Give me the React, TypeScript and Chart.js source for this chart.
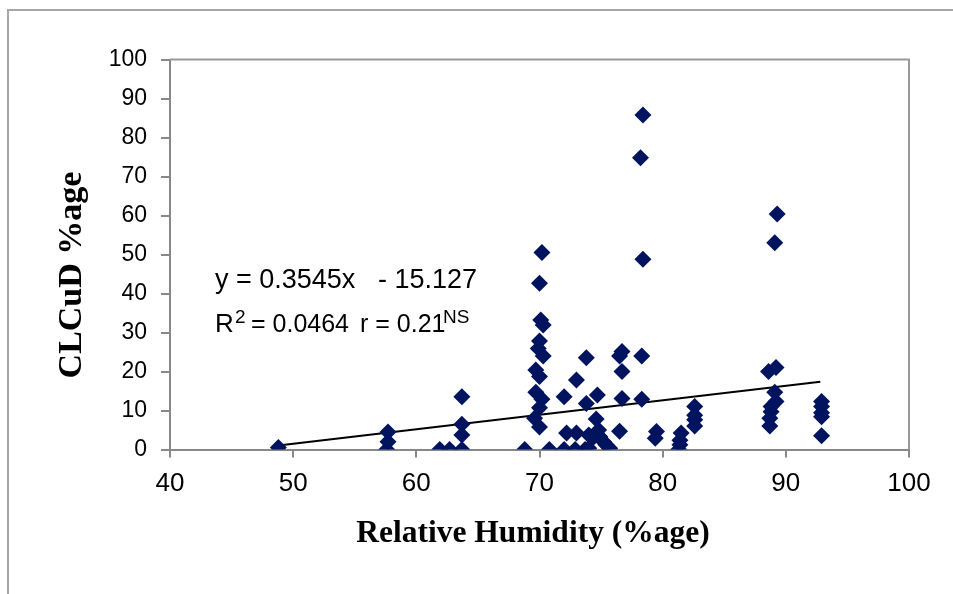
import React, { useEffect, useRef } from 'react';
import { Chart, registerables } from 'chart.js';

Chart.register(...registerables);

// Relative humidity (%) of each observation
const rhValues = [
  48.8, 57.7, 57.7, 57.6, 61.9, 62.7, 63.7, 63.7, 63.7, 63.7,
  68.8, 70.2, 70.0, 70.1, 70.3, 70.0, 69.9, 70.3, 69.7, 70.0,
  69.7, 70.2, 70.0, 69.6, 70.0, 70.8, 72.0, 73.0, 73.8, 73.8,
  74.7, 74.6, 72.2, 73.0, 74.0, 74.8, 74.9, 75.2, 75.7, 72.0,
  72.9, 73.7, 74.0, 75.4, 74.3, 76.5, 76.7, 76.7, 76.5, 76.7,
  78.4, 78.2, 78.4, 78.3, 78.3, 79.5, 79.4, 82.6, 82.6, 82.6,
  82.6, 81.5, 81.4, 81.4, 81.3, 89.3, 89.1, 88.6, 89.2, 89.1,
  89.2, 88.8, 88.7, 88.7, 92.9, 92.9, 92.9, 92.9, 92.9, 88.8,
];
// CLCuD incidence (%) of each observation
const clcudValues = [
  0.5, 4.5, 2.0, 0.0, 0.0, 0.0, 13.5, 6.5, 3.7, 0.0,
  0.0, 50.5, 42.6, 33.2, 31.9, 27.8, 25.9, 24.0, 20.4, 18.7,
  14.7, 12.9, 10.7, 8.0, 5.8, 0.0, 13.5, 17.8, 23.5, 11.8,
  14.0, 7.8, 4.2, 4.2, 3.7, 5.0, 3.3, 2.0, 0.3, 0.0,
  0.0, 0.0, 0.3, 1.2, 2.9, 4.7, 13.1, 20.0, 24.0, 25.1,
  85.8, 74.8, 48.8, 24.0, 12.9, 4.6, 2.9, 11.0, 8.8, 7.6,
  6.0, 4.2, 2.4, 1.2, 0.0, 60.4, 53.0, 20.0, 21.0, 14.7,
  12.3, 9.7, 8.0, 6.0, 12.3, 11.0, 9.4, 8.4, 3.5, 11.0,
];
// Linear trend line end points (as drawn)
const trendX = [48.8, 92.8];
const trendY = [1.0, 17.4];

const xMin = 40;
const xMax = 100;
const yMin = 0;
const yMax = 100;
const tickStep = 10;

const xTitle = 'Relative Humidity (%age)';
const yTitle = 'CLCuD %age';
const eqLine1a = 'y = 0.3545x';
const eqLine1b = '- 15.127';
const eqLine2a = 'R';
const eqLine2sup = '2';
const eqLine2b = '= 0.0464';
const eqLine2c = 'r = 0.21';
const eqLine2sup2 = 'NS';

const SANS = '"Liberation Sans", Arial, sans-serif';
const SERIF = '"Liberation Serif", "Times New Roman", serif';

const overlay = {
  id: 'overlay',
  beforeDraw(chart: any) {
    const ctx = chart.ctx;
    ctx.save();
    ctx.fillStyle = '#ffffff';
    ctx.fillRect(0, 0, chart.width, chart.height);
    ctx.restore();
  },
  afterDraw(chart: any) {
    const ctx = chart.ctx;
    const { left, top, right, bottom } = chart.chartArea;
    ctx.save();
    // plot area border (top & right)
    ctx.strokeStyle = '#999999';
    ctx.lineWidth = 2;
    ctx.beginPath();
    ctx.moveTo(left, top);
    ctx.lineTo(right, top);
    ctx.lineTo(right, bottom);
    ctx.stroke();
    // chart area outer border
    ctx.strokeStyle = '#a6a6a6';
    ctx.lineWidth = 2;
    ctx.beginPath();
    ctx.moveTo(8, chart.height);
    ctx.lineTo(8, 10);
    ctx.lineTo(chart.width, 10);
    ctx.stroke();

    ctx.fillStyle = '#000000';
    ctx.textBaseline = 'alphabetic';
    ctx.textAlign = 'left';
    // equation
    ctx.font = `27px ${SANS}`;
    ctx.fillText(eqLine1a, 215, 288);
    ctx.fillText(eqLine1b, 378, 288);
    ctx.font = `26px ${SANS}`;
    ctx.fillText(eqLine2a, 215, 332);
    ctx.font = `25px ${SANS}`;
    ctx.fillText(eqLine2b, 251, 332);
    ctx.fillText(eqLine2c, 360, 332);
    ctx.font = `19px ${SANS}`;
    ctx.fillText(eqLine2sup, 235, 323);
    ctx.fillText(eqLine2sup2, 443, 323);

    // axis titles
    ctx.font = `bold 31.5px ${SERIF}`;
    ctx.textAlign = 'center';
    ctx.fillText(xTitle, 533, 542);
    ctx.save();
    ctx.translate(81, 275);
    ctx.rotate(-Math.PI / 2);
    ctx.font = `bold 34px ${SERIF}`;
    ctx.fillText(yTitle, 0, 0);
    ctx.restore();
    ctx.restore();
  },
};

export default function App() {
  const ref = useRef<HTMLCanvasElement>(null);
  useEffect(() => {
    if (!ref.current) return;
    const points = rhValues.map((x, i) => ({ x, y: clcudValues[i] }));
    const trend = trendX.map((x, i) => ({ x, y: trendY[i] }));
    const axisColor = '#888888';
    const chart = new Chart(ref.current, {
      type: 'scatter',
      data: {
        datasets: [
          {
            label: 'CLCuD',
            data: points,
            pointStyle: 'rectRot',
            pointRadius: 8.5,
            pointHoverRadius: 8.5,
            backgroundColor: '#00135e',
            borderColor: '#00135e',
            borderWidth: 0,
            order: 0,
          },
          {
            type: 'line',
            label: 'Trend',
            data: trend,
            borderColor: '#000000',
            borderWidth: 2,
            pointRadius: 0,
            showLine: true,
            fill: false,
            order: 1,
          } as any,
        ],
      },
      options: {
        responsive: false,
        animation: false,
        events: [],
        layout: { padding: { left: 0, top: 59.5, right: 44, bottom: 0 } },
        plugins: {
          legend: { display: false },
          tooltip: { enabled: false },
          title: { display: false },
        },
        scales: {
          x: {
            type: 'linear',
            min: xMin,
            max: xMax,
            afterFit: (s: any) => { s.height = 594 - 449.5; },
            ticks: {
              stepSize: tickStep,
              color: '#000000',
              font: { family: SANS, size: 26 },
              padding: 11,
              maxRotation: 0,
            },
            grid: {
              drawOnChartArea: false,
              drawTicks: true,
              tickLength: 8,
              color: axisColor,
              lineWidth: 2,
            },
            border: { color: axisColor, width: 2 },
          },
          y: {
            type: 'linear',
            min: yMin,
            max: yMax,
            afterFit: (s: any) => { s.width = 170; },
            ticks: {
              stepSize: tickStep,
              color: '#000000',
              font: { family: SANS, size: 23 },
              padding: 14,
            },
            grid: {
              drawOnChartArea: false,
              drawTicks: true,
              tickLength: 9,
              color: axisColor,
              lineWidth: 2,
            },
            border: { color: axisColor, width: 2 },
          },
        },
      },
      plugins: [overlay],
    });
    return () => chart.destroy();
  }, []);
  return (
    <div style={{ position: 'fixed', left: 0, top: 0, width: 953, height: 594, background: '#fff' }}>
      <canvas ref={ref} width={953} height={594} style={{ width: 953, height: 594, display: 'block' }} />
    </div>
  );
}
